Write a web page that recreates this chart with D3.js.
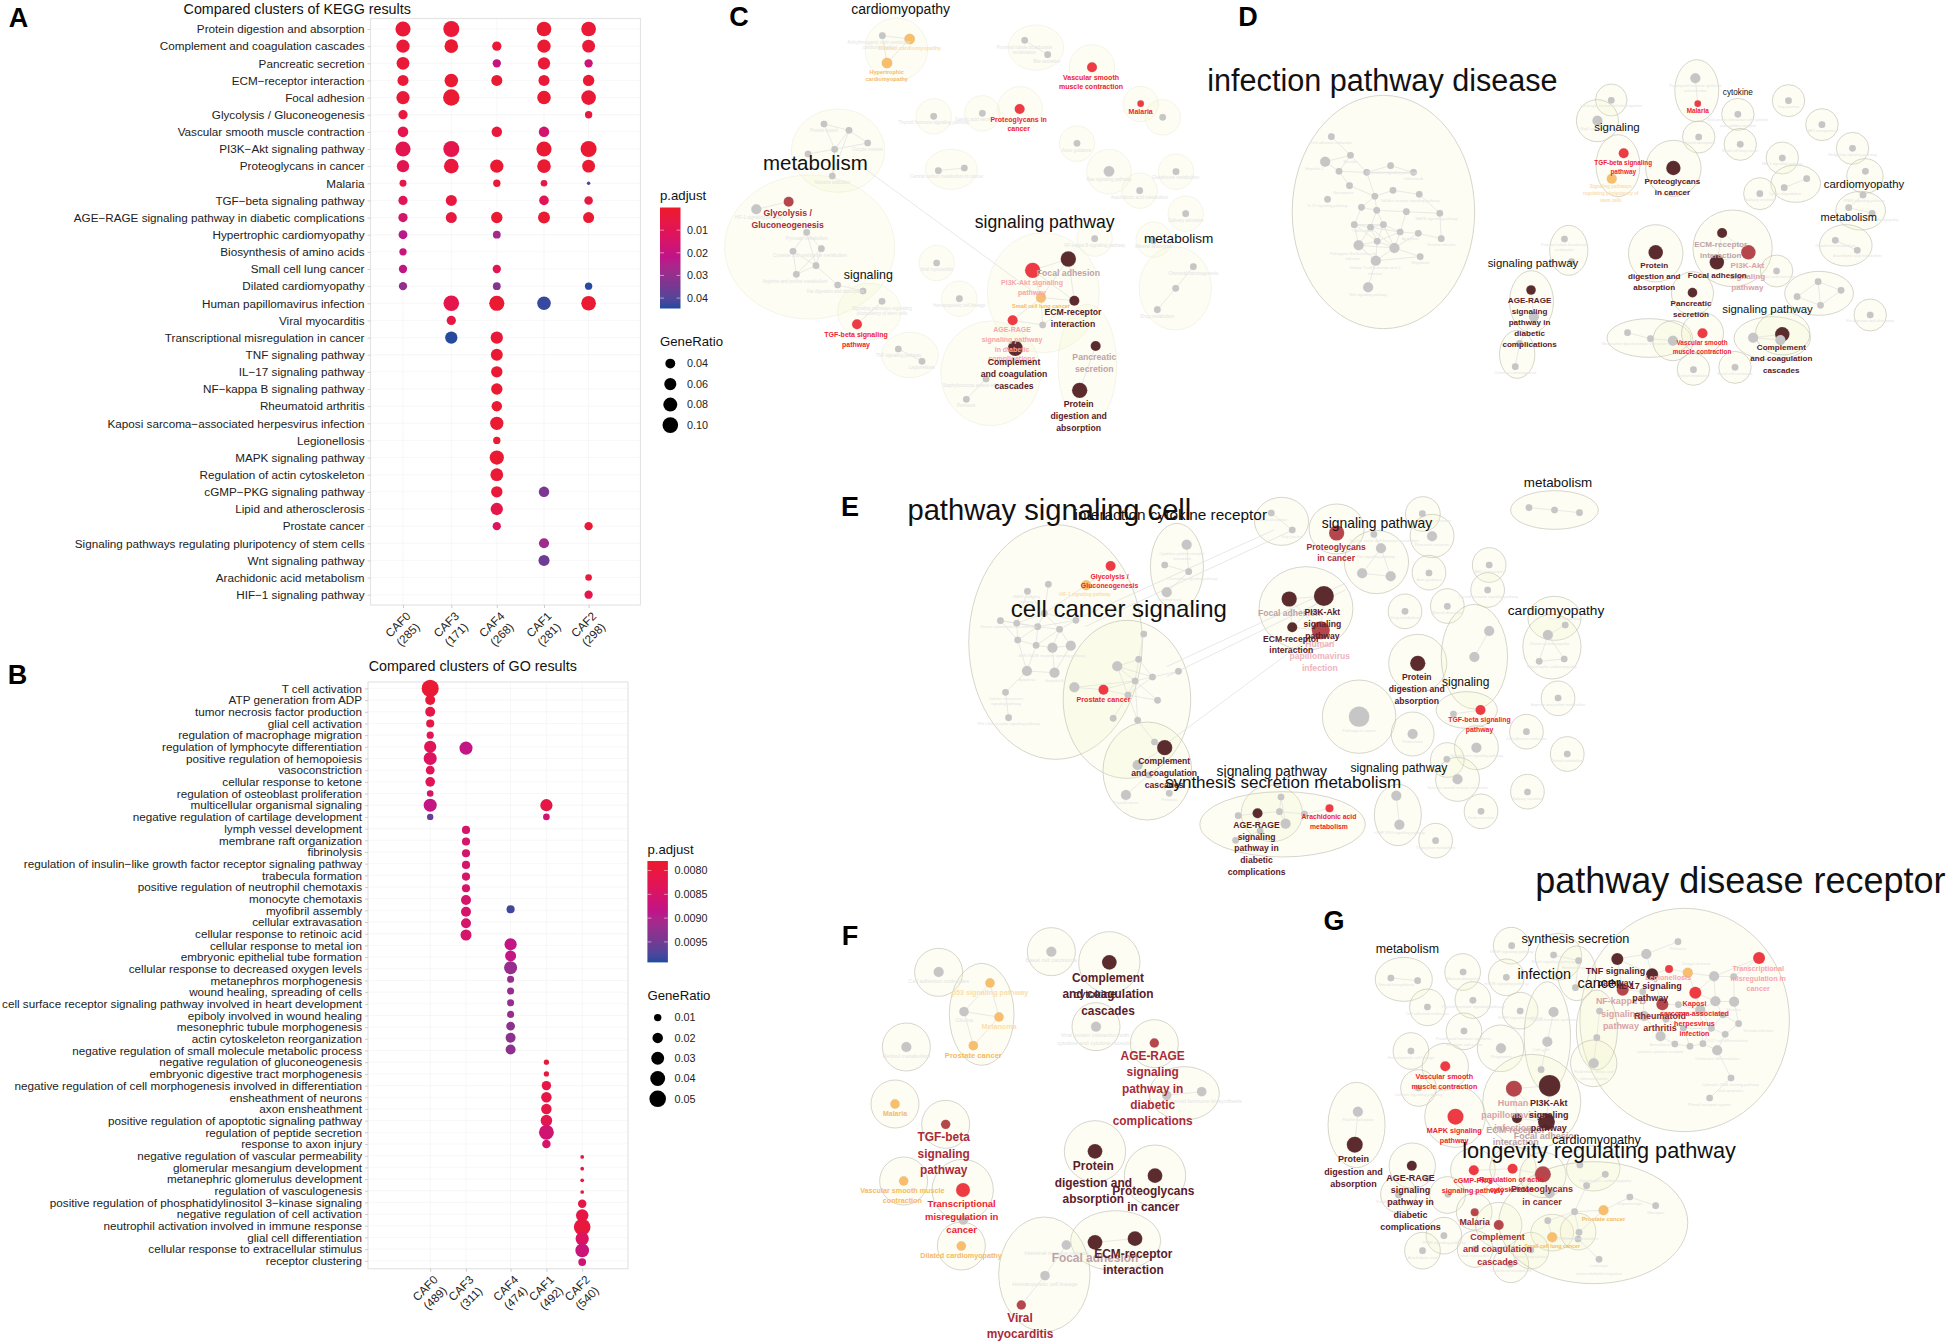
<!DOCTYPE html>
<html>
<head>
<meta charset="utf-8">
<script src="https://cdn.jsdelivr.net/npm/d3@7"></script>
<style>
html, body { margin: 0; padding: 0; background: #fff; }
text { font-family: "Liberation Sans", Arial, sans-serif; }
</style>
</head>
<body>
<svg id="fig" width="1949" height="1342"></svg>
<script>
//KEGG dot plot
var keggTerms = ["Protein digestion and absorption", "Complement and coagulation cascades", "Pancreatic secretion", "ECM−receptor interaction", "Focal adhesion", "Glycolysis / Gluconeogenesis", "Vascular smooth muscle contraction", "PI3K−Akt signaling pathway", "Proteoglycans in cancer", "Malaria", "TGF−beta signaling pathway", "AGE−RAGE signaling pathway in diabetic complications", "Hypertrophic cardiomyopathy", "Biosynthesis of amino acids", "Small cell lung cancer", "Dilated cardiomyopathy", "Human papillomavirus infection", "Viral myocarditis", "Transcriptional misregulation in cancer", "TNF signaling pathway", "IL−17 signaling pathway", "NF−kappa B signaling pathway", "Rheumatoid arthritis", "Kaposi sarcoma−associated herpesvirus infection", "Legionellosis", "MAPK signaling pathway", "Regulation of actin cytoskeleton", "cGMP−PKG signaling pathway", "Lipid and atherosclerosis", "Prostate cancer", "Signaling pathways regulating pluripotency of stem cells", "Wnt signaling pathway", "Arachidonic acid metabolism", "HIF−1 signaling pathway"];
var keggClusters = ["CAF0", "CAF3", "CAF4", "CAF1", "CAF2"];
var keggCounts = ["(285)", "(171)", "(268)", "(281)", "(298)"];
var keggRowsCAF0 = [0, 1, 2, 3, 4, 5, 6, 7, 8, 9, 10, 11, 12, 13, 14, 15];
var keggRatioCAF0 = [.094, .072, .067, .05, .072, .035, .046, .094, .062, .02, .035, .035, .032, .022, .028, .028];
var keggPadjCAF0 = [.003, .003, .003, .003, .003, .004, .008, .009, .009, .006, .01, .015, .023, .019, .021, .03];
var keggRowsCAF3 = [0, 1, 3, 4, 7, 8, 10, 11, 16, 17, 18];
var keggRatioCAF3 = [.105, .075, .075, .11, .105, .088, .05, .05, .1, .035, .062];
var keggPadjCAF3 = [.003, .002, .002, .002, .008, .004, .005, .005, .008, .006, .044];
var keggRowsCAF4 = [1, 2, 3, 6, 8, 9, 11, 12, 14, 15, 16, 18, 19, 20, 21, 22, 23, 24, 25, 26, 27, 28, 29];
var keggRatioCAF4 = [.035, .028, .05, .045, .072, .022, .053, .025, .028, .025, .094, .062, .058, .053, .053, .045, .072, .022, .083, .067, .053, .062, .028];
var keggPadjCAF4 = [.003, .02, .002, .004, .002, .003, .002, .027, .009, .033, .002, .003, .002, .002, .002, .002, .002, .002, .002, .003, .004, .007, .012];
var keggRowsCAF1 = [0, 1, 2, 3, 4, 6, 7, 8, 9, 10, 11, 16, 27, 30, 31];
var keggRatioCAF1 = [.088, .072, .062, .05, .075, .045, .094, .075, .018, .038, .058, .075, .045, .042, .05];
var keggPadjCAF1 = [.002, .002, .003, .003, .002, .016, .002, .002, .006, .01, .002, .043, .034, .028, .036];
var keggRowsCAF2 = [0, 1, 2, 3, 4, 5, 7, 8, 9, 10, 11, 15, 16, 29, 32, 33];
var keggRatioCAF2 = [.088, .067, .028, .053, .088, .022, .105, .067, .005, .03, .05, .022, .088, .028, .018, .028];
var keggPadjCAF2 = [.003, .003, .018, .002, .003, .005, .002, .002, .04, .005, .002, .044, .002, .003, .004, .008];
var keggPadjTicks = [.01, .02, .03, .04];
var keggRatioTicks = [.04, .06, .08, .10];

//GO dot plot
var goTerms = ["T cell activation", "ATP generation from ADP", "tumor necrosis factor production", "glial cell activation", "regulation of macrophage migration", "regulation of lymphocyte differentiation", "positive regulation of hemopoiesis", "vasoconstriction", "cellular response to ketone", "regulation of osteoblast proliferation", "multicellular organismal signaling", "negative regulation of cartilage development", "lymph vessel development", "membrane raft organization", "fibrinolysis", "regulation of insulin−like growth factor receptor signaling pathway", "trabecula formation", "positive regulation of neutrophil chemotaxis", "monocyte chemotaxis", "myofibril assembly", "cellular extravasation", "cellular response to retinoic acid", "cellular response to metal ion", "embryonic epithelial tube formation", "cellular response to decreased oxygen levels", "metanephros morphogenesis", "wound healing, spreading of cells", "cell surface receptor signaling pathway involved in heart development", "epiboly involved in wound healing", "mesonephric tubule morphogenesis", "actin cytoskeleton reorganization", "negative regulation of small molecule metabolic process", "negative regulation of gluconeogenesis", "embryonic digestive tract morphogenesis", "negative regulation of cell morphogenesis involved in differentiation", "ensheathment of neurons", "axon ensheathment", "positive regulation of apoptotic signaling pathway", "regulation of peptide secretion", "response to axon injury", "negative regulation of vascular permeability", "glomerular mesangium development", "metanephric glomerulus development", "regulation of vasculogenesis", "positive regulation of phosphatidylinositol 3−kinase signaling", "negative regulation of cell activation", "neutrophil activation involved in immune response", "glial cell differentiation", "cellular response to extracellular stimulus", "receptor clustering"];
var goClusters = ["CAF0", "CAF3", "CAF4", "CAF1", "CAF2"];
var goCounts = ["(489)", "(311)", "(474)", "(492)", "(540)"];
var goRowsCAF0 = [0, 1, 2, 3, 4, 5, 6, 7, 8, 9, 10, 11];
var goRatioCAF0 = [.053, .018, .018, .012, .0095, .027, .031, .014, .017, .008, .031, .0075];
var goPadjCAF0 = [.0079, .008, .0081, .0081, .0082, .0083, .0084, .0083, .0083, .0085, .0088, .0096];
var goRowsCAF3 = [5, 12, 13, 14, 15, 16, 17, 18, 19, 20, 21];
var goRatioCAF3 = [.031, .012, .012, .012, .012, .012, .012, .018, .018, .018, .022];
var goPadjCAF3 = [.0088, .0085, .0085, .0085, .0085, .0085, .0085, .0085, .0085, .0085, .0085];
var goRowsCAF4 = [19, 22, 23, 24, 25, 26, 27, 28, 29, 30, 31];
var goRatioCAF4 = [.012, .027, .022, .031, .009, .009, .009, .009, .014, .018, .018];
var goPadjCAF4 = [.0098, .0088, .0088, .0092, .0092, .0092, .0092, .0092, .0093, .0093, .0093];
var goRowsCAF1 = [10, 11, 32, 33, 34, 35, 36, 37, 38, 39];
var goRatioCAF1 = [.027, .008, .005, .005, .016, .02, .02, .024, .04, .013];
var goPadjCAF1 = [.0081, .0086, .008, .008, .0081, .0081, .0081, .0082, .0086, .0085];
var goRowsCAF2 = [40, 41, 42, 43, 44, 45, 46, 47, 48, 49];
var goRatioCAF2 = [.0025, .0025, .0025, .0025, .013, .028, .05, .032, .034, .011];
var goPadjCAF2 = [.008, .008, .008, .008, .0081, .0081, .008, .0084, .0087, .0086];
var goPadjTicks = [.008, .0085, .009, .0095];
var goRatioTicks = [.01, .02, .03, .04, .05];

// network panels: cluster outlines [cx, cy, rx, ry] in each panel's own layout units
var hullsC = [[559,148,94,94],[978,143,83,68],[1146,202,68,68],[1292,312,53,53],[1358,352,53,53],[930,327,67,67],[817,340,53,53],[671,349,53,53],[384,452,140,125],[1101,431,53,53],[724,508,78,60],[1197,515,67,67],[1398,515,53,53],[1289,572,53,53],[1427,641,53,53],[299,741,255,216],[1154,716,53,53],[1331,719,53,53],[680,789,53,53],[1000,878,168,180],[748,896,53,53],[1396,865,108,125],[478,935,95,85],[600,1065,85,68],[842,1120,150,157],[1132,1095,88,182]];
// groups: [nodes [x, y, size, kind], links between the group's nodes]
var groupsC = [
  [[[517,107],[599,117,28,"o"],[531,189,28,"o"]], [[0,1],[1,2],[0,2]]],
  [[[944,121],[1013,164]], [[0,1]]],
  [[[1146,202,25,"r"],[1292,311,11,"r"],[1358,352],[929,327,25,"r"],[817,340],[671,349],[1101,430],[1197,514,28],[1398,515],[1289,572],[1427,641],[1154,716],[1330,722],[680,789],[748,896]], []],
  [[[342,372],[417,391],[473,429],[374,448],[294,462],[367,528]], [[0,1],[0,3],[1,3],[1,2],[3,2],[3,4],[3,5],[1,5]]],
  [[[685,512],[763,504]], [[0,1]]],
  [[[139,628,25],[236,605,25,"m"]], [[0,1]]],
  [[[290,697],[249,754],[334,746],[318,797],[259,823],[383,855],[459,873]], [[0,1],[0,2],[0,3],[1,3],[2,3],[1,4],[2,4],[3,4],[3,5],[5,6]]],
  [[[516,904],[441,973,25,"r"]], [[0,1]]],
  [[[565,1047],[636,1084]], [[0,1]]],
  [[[1450,800],[1397,865],[1342,929]], [[0,1],[1,2]]],
  [[[968,811,59,"r"],[1075,777,59,"b"],[993,893,25,"o"],[1093,902,25,"b"],[908,961,25,"r"],[998,975]], [[0,1],[0,2],[0,3],[1,3],[1,2],[2,3],[2,4],[4,5],[2,5],[3,5]]],
  [[[916,1045,59,"b"]], []],
  [[[828,1137],[769,1198]], [[0,1]]],
  [[[1157,1038,25,"b"],[1109,1171,59,"b"]], [[0,1]]]
];
var crossC = [[470,510,990,890]];
// labels: [text with | between lines, x, y of the first line, line step, font size, kind]
var labelsC = [
  ["Arrhythmogenic right ventricular|cardiomyopathy",507,127,16,4.5,"g"],["Proximal tubule bicarbonate|reclamation",943,141,16,4.5,"g"],["Bile secretion",1010,184,0,4.5,"g"],["Thyroid hormone signaling pathway",671,368,0,4.5,"g"],["Gastric acid secretion",800,358,0,4.5,"g"],["Protein export",342,392,0,4.5,"g"],["Oocyte meiosis",473,449,0,4.5,"g"],["Nicotine addiction",367,547,0,4.5,"g"],["HIF-1 signaling pathway",147,652,0,4.5,"g"],["Pyruvate metabolism",290,716,0,4.5,"g"],["Cysteine and methionine metabolism",300,765,0,4.5,"g"],["Arginine and proline metabolism",255,843,0,4.5,"g"],["Fat digestion and absorption",376,874,0,4.5,"g"],["Central carbon metabolism in cancer",710,530,0,4.5,"g"],["Axon guidance",1100,450,0,4.5,"g"],["Ras signaling pathway",1197,539,0,4.5,"g"],["Glutathione metabolism",1397,533,0,4.5,"g"],["Arachidonic acid metabolism",1288,592,0,4.5,"g"],["Salivary secretion",1427,660,0,4.5,"g"],["NF-kappa B signaling pathway",1154,736,0,4.5,"g"],["Mineral absorption",1331,738,0,4.5,"g"],["Viral myocarditis",680,808,0,4.5,"g"],["Hematopoietic cell lineage",748,915,0,4.5,"g"],["Chemical carcinogenesis",1450,820,0,4.5,"g"],["Drug metabolism",1342,948,0,4.5,"g"],["Signaling pathways regulating|pluripotency of stem cells",516,924,16,4.5,"g"],["TNF signaling pathway",565,1066,0,4.5,"g"],["Legionellosis",636,1102,0,4.5,"g"],["Staphylococcus aureus infection",795,1156,0,4.5,"g"],["Pertussis",769,1217,0,4.5,"g"],
  ["Dilated cardiomyopathy",600,143,0,5.5,"y"],["Hypertrophic|cardiomyopathy",530,216,22,5.5,"o"],
  ["Vascular smooth|muscle contraction",1143,232,28,7,"r"],["Proteoglycans in|cancer",926,358,28,7,"r"],["Malaria",1292,336,0,7,"r"],["Glycolysis /|Gluconeogenesis",233,638,36,8.7,"m"],["TGF-beta signaling|pathway",438,1003,30,7,"r"],
  ["PI3K-Akt signaling|pathway",966,849,29,7,"p"],["Focal adhesion",1075,818,0,8.7,"t"],["Small cell lung cancer",993,918,0,5.5,"o"],["ECM-receptor|interaction",1089,936,36,8.7,"b"],["AGE-RAGE|signaling pathway|in diabetic|complications",906,990,29,7,"p"],["Complement|and coagulation|cascades",912,1087,36,8.7,"b"],["Pancreatic|secretion",1153,1072,36,8.7,"t"],["Protein|digestion and|absorption",1106,1212,36,8.7,"b"],
  ["cardiomyopathy",572,28,0,14,"k"],["metabolism",316,488,0,20.5,"k"],["signaling pathway",1004,666,0,17.6,"k"],["signaling",475,825,0,12.4,"k"],["metabolism",1406,714,0,13.6,"k"]
];

var hullsD = [[384,636,191,350],[861,300,33,48],[832,362,44,63],[1040,272,46,93],[1126,343,34,48],[1232,302,34,48],[1302,374,34,48],[1044,411,34,48],[1131,433,34,48],[875,497,46,93],[991,505,58,84],[1366,445,34,48],[1219,474,34,48],[1247,551,52,56],[1172,581,34,48],[1392,528,38,52],[1383,632,52,58],[1352,736,55,62],[772,751,40,75],[954,760,57,86],[1115,745,83,115],[1207,813,34,48],[694,905,46,93],[1031,880,44,65],[664,1063,37,72],[1296,880,72,66],[1403,945,34,48],[940,1014,88,58],[990,1022,42,60],[1052,1000,44,62],[1198,1015,80,65],[1220,1000,57,65],[1033,1108,34,48],[1120,1102,34,48]];
var groupsD = [
  [[[275,410],[315,466],[262,485,25],[291,514],[349,517],[399,497],[447,517],[313,557],[366,589],[404,571],[459,583],[267,598],[338,622],[370,631],[432,635],[502,640],[323,674],[357,682],[384,674],[419,696],[457,700],[505,716],[332,736,25],[371,724],[407,744,25],[368,782,25],[461,770],[352,862,25]],
   [[0,1],[1,2],[1,3],[1,4],[2,3],[3,4],[3,7],[4,5],[4,6],[5,6],[4,8],[7,8],[8,9],[9,10],[8,12],[8,13],[12,13],[13,14],[13,18],[14,19],[16,17],[17,18],[16,18],[17,19],[18,19],[16,22],[17,22],[17,23],[18,23],[19,23],[22,23],[23,24],[22,24],[22,25],[23,25],[24,25],[19,24],[19,20],[20,24],[24,26],[25,26],[25,27],[10,15],[15,21],[21,20],[14,15],[17,24],[18,24],[16,23],[12,16],[13,17]]],
  [[[1037,235,25],[1042,311,11,"r"]], [[0,1]]],
  [[[861,301],[832,362,25],[887,460,25,"r"],[862,536,25,"o"],[991,504,52,"b"],[1126,343],[1232,302],[1302,374],[1044,411],[1131,433],[1366,445],[1393,514],[1219,474],[1172,581],[1207,813],[1403,945],[763,717],[778,785]], []],
  [[[1270,536],[1223,563]], [[0,1]]],
  [[[1388,585],[1358,623],[1407,640]], [[0,1],[1,2]]],
  [[[1330,721],[1376,751]], [[0,1]]],
  [[[693,870,23,"b"],[699,950,25],[669,1030],[660,1100]], [[0,1],[1,2],[2,3]]],
  [[[954,757,52,"b"],[1031,878,23,"b"]], []],
  [[[1093,699,25,"b"],[1148,757,52,"m"],[1082,787,52,"b"]], [[0,1],[1,2],[0,2]]],
  [[[1294,845],[1342,871],[1299,916],[1250,890]], [[0,1],[1,2],[2,3],[3,0],[0,2]]],
  [[[895,998],[943,1016],[990,1022,25]], [[0,1],[1,2]]],
  [[[1052,1000,25,"r"],[1033,1109],[1120,1102]], []],
  [[[1158,1013,25],[1219,1003,52,"b"],[1215,1020,25]], [[0,1],[0,2],[1,2]]]
];
var crossD = [];
var labelsD = [
  ["Cell adhesion molecules",275,427,0,3.8,"g"],["Measles",315,486,0,3.8,"g"],["Hepatitis C",240,507,0,3.8,"g"],["Chemokine signaling pathway",400,517,0,3.8,"g"],["Influenza A",447,536,0,3.8,"g"],["Necroptosis",300,578,0,3.8,"g"],["Toll-like receptor signaling pathway",440,602,0,3.8,"g"],["IL-17 signaling pathway",267,616,0,3.8,"g"],["MAPK signaling pathway",495,657,0,3.8,"g"],["Tuberculosis",340,692,0,3.8,"g"],["Apoptosis",440,717,0,3.8,"g"],["Yersinia infection",505,733,0,3.8,"g"],["Pathogenic Escherichia coli|infection",320,760,16,3.8,"g"],["Human T-cell leukemia virus 1|infection",367,804,16,3.8,"g"],["Shigellosis",461,788,0,3.8,"g"],["Wnt signaling pathway",352,884,0,3.8,"g"],
  ["Leukocyte transendothelial migration",861,318,0,3.8,"g"],["Rap1 signaling pathway",838,385,0,3.8,"g"],["Parathyroid hormone synthesis|and secretion",1037,258,14,3.8,"g"],["Mineral absorption",1044,428,0,3.8,"g"],["Viral protein interaction with cytokine|and cytokine receptor",1126,360,16,3.8,"g"],["Small cell lung cancer",1131,451,0,3.8,"g"],["Gap junction",1232,320,0,3.8,"g"],["ABC transporters",1302,392,0,3.8,"g"],["Hedgehog signaling pathway",1366,463,0,3.8,"g"],["HIF-1 signaling pathway",1219,492,0,3.8,"g"],["Lysine degradation",1225,581,0,3.8,"g"],["Salivary secretion",1172,600,0,3.8,"g"],["PPAR signaling pathway",1390,603,0,3.8,"g"],["Hypertrophic cardiomyopathy",1410,658,0,3.8,"g"],["Glutathione metabolism",1330,738,0,3.8,"g"],["Arachidonic acid metabolism",1376,768,0,3.8,"g"],["Proximal tubule bicarbonate|reclamation",763,735,14,3.8,"g"],["Gastric acid secretion",1207,830,0,3.8,"g"],["Fat digestion and absorption",1403,963,0,3.8,"g"],["Neuroactive ligand-receptor interaction",910,1030,0,3.8,"g"],["Retinol metabolism",1033,1126,0,3.8,"g"],["Basal cell carcinoma",1120,1120,0,3.8,"g"],["Chemical carcinogenesis",660,1118,0,3.8,"g"],
  ["Signaling pathways|regulating pluripotency of|stem cells",860,560,20,4.5,"y"],
  ["Malaria",1042,333,0,6.4,"r"],["TGF-beta signaling|pathway",886,488,26,6.4,"r"],["Proteoglycans|in cancer",989,543,33,8.1,"b"],["ECM-receptor|interaction",1090,731,33,8.1,"t"],["PI3K-Akt|signaling|pathway",1146,795,33,8.1,"u"],["Focal adhesion",1083,825,0,8.1,"b"],["Protein|digestion and|absorption",951,795,33,8.1,"b"],["Pancreatic|secretion",1028,909,33,8.1,"b"],["AGE-RAGE|signaling|pathway in|diabetic|complications",690,900,33,8.1,"b"],["Vascular smooth|muscle contraction",1051,1028,26,6.4,"r"],["Complement|and coagulation|cascades",1217,1042,33.5,8.1,"b"],
  ["infection pathway disease",382,240,0,30.6,"k"],["signaling",873,382,0,11.5,"k"],["cytokine",1126,275,0,8.2,"k"],["cardiomyopathy",1390,551,0,11.4,"k"],["metabolism",1358,651,0,11,"k"],["signaling pathway",697,790,0,11.4,"k"],["signaling pathway",1188,928,0,11.4,"k"]
];

var hullsE = [[442,576,170,352],[582,748,125,237],[680,350,52,130],[885,214,53,72],[993,237,54,75],[1071,336,63,95],[1162,192,34,52],[1180,258,43,65],[1174,368,33,52],[1292,345,33,52],[1420,180,86,58],[1289,420,33,52],[933,475,92,125],[1127,484,33,52],[1210,468,33,52],[1152,640,57,87],[1263,620,65,157],[1420,505,52,66],[1415,590,57,97],[1427,745,33,52],[1037,800,72,110],[1142,852,42,66],[1248,780,60,55],[1267,893,43,66],[1365,845,33,52],[1445,912,33,52],[1210,930,33,52],[1230,988,43,66],[1367,1025,33,52],[1276,1084,33,52],[1113,1095,46,92],[1187,1172,33,52],[622,963,87,147],[866,1090,60,85],[887,1123,162,98]];
var groupsE = [
  [[[550,348,25,"r"],[502,406,25,"o"],[428,403],[387,424],[334,512],[366,520],[407,530],[482,511],[420,490],[450,538],[368,570],[404,586],[436,593,25],[472,587,25],[386,663,25],[440,668,25],[344,727],[350,803]],
   [[0,1],[1,8],[2,8],[3,8],[3,5],[4,5],[5,6],[5,8],[6,8],[6,9],[8,9],[7,8],[7,9],[4,6],[4,10],[5,10],[6,10],[6,11],[10,11],[9,11],[9,12],[9,13],[11,12],[12,13],[10,14],[11,14],[12,15],[14,15],[13,15],[16,17],[14,16],[7,6]]],
  [[[615,552],[605,628],[683,664],[563,649,25],[632,681],[598,693],[479,712,25],[536,719,25,"r"],[584,735],[642,751],[555,805],[603,811],[636,876],[656,893,58,"b"],[603,945,25],[625,975],[580,1035,25],[665,1030]],
   [[0,1],[1,3],[1,4],[1,5],[3,4],[3,5],[3,8],[4,5],[2,4],[5,7],[6,7],[7,8],[5,8],[4,8],[8,9],[5,9],[8,10],[8,11],[5,11],[11,12],[12,13],[13,14],[14,15],[15,16],[15,17],[6,5]]],
  [[[699,284,25],[656,345],[703,365],[660,427,25]], [[0,2],[1,2],[2,3]]],
  [[[865,189],[906,240]], [[0,1]]],
  [[[993,249,58,"m"],[1066,253],[1080,295,25],[1043,370,25],[1099,379,25]], [[1,2],[2,3],[2,4],[3,4]]],
  [[[1161,191],[1180,259,25],[1174,369],[1292,345],[1289,420],[1127,484],[1210,469],[1427,744],[1037,800,104],[1142,852,25],[1365,845],[1267,893,25],[1445,912],[1209,928],[1230,988,25],[1367,1026],[1276,1084],[1187,1172]], []],
  [[[1370,173],[1420,180],[1469,188]], [[0,1],[1,2]]],
  [[[900,447,58,"b"],[968,438,100,"b"],[906,532,25,"b"],[962,541,81,"m"]], [[0,1],[0,2],[1,2],[1,3],[2,3],[0,3]]],
  [[[1152,640,58,"b"]], []],
  [[[1292,543,25],[1263,621,25]], [[0,1]]],
  [[[1275,780,25,"r"],[1222,792]], [[0,1]]],
  [[[1441,525],[1407,555,25],[1390,634],[1439,627]], [[1,2],[2,3],[1,3],[0,1]]],
  [[[1110,1037,25],[1116,1124,25]], [[0,1]]],
  [[[884,1041],[800,1097],[838,1090,25,"b"],[881,1085],[930,1092],[979,1075,16,"r"],[893,1121,25],[843,1143],[795,1171]], [[0,3],[1,2],[2,3],[3,4],[4,5],[3,6],[2,7],[7,8],[0,6]]]
];
var crossE = [[480,510,870,240],[500,530,900,245],[660,650,1010,400],[660,680,1010,420],[660,880,960,540]];
var labelsE = [
  ["MAPK signaling|pathway",385,440,16,3.8,"g"],["Human cytomegalovirus infection",350,530,0,3.8,"g"],["AGE-RAGE receptor signaling pathway",435,617,0,3.8,"g"],["Apoptosis",386,688,0,3.8,"g"],["Hepatitis B",440,692,0,3.8,"g"],["Cellular senescence|signaling pathway",345,746,16,3.8,"g"],["RIG-I-like receptor signaling pathway",350,822,0,3.8,"g"],["Cytokine-cytokine receptor|interaction",690,312,14,3.8,"g"],["Chemokine signaling pathway",710,385,0,3.8,"g"],["Leishmaniasis",665,450,0,3.8,"g"],["Mineral absorption",865,208,0,3.8,"g"],["Gap junction",906,260,0,3.8,"g"],["Glycine, serine and threonine metabolism",1085,272,0,3.8,"g"],["Pancreatic secretion",1180,284,0,3.8,"g"],["Insulin secretion",1190,212,0,3.8,"g"],["Ras signaling pathway",1070,320,0,3.8,"g"],["Axon guidance",1174,388,0,3.8,"g"],["ABC transporters",1292,365,0,3.8,"g"],["Thyroid hormone signaling pathway",1290,440,0,3.8,"g"],["Drug metabolism",1127,504,0,3.8,"g"],["Mineral absorption",1210,489,0,3.8,"g"],["Retinol metabolism",1441,505,0,3.8,"g"],["Dilated cardiomyopathy",1410,580,0,3.8,"g"],["Hypertrophic cardiomyopathy",1415,650,0,3.8,"g"],["Arginine and proline metabolism",1427,764,0,3.8,"g"],["Pathways in cancer",1037,842,0,3.8,"g"],["Proteasome",1142,876,0,3.8,"g"],["Cell adhesion molecules",1365,865,0,3.8,"g"],["Spliceosome signaling pathway",1267,918,0,3.8,"g"],["Retinol metabolism",1445,932,0,3.8,"g"],["Vascular smooth muscle contraction",1230,1013,0,3.8,"g"],["Salivary secretion",1367,1046,0,3.8,"g"],["Renin secretion",1276,1104,0,3.8,"g"],["cGMP-PKG signaling pathway",1116,1147,0,3.8,"g"],["Tryptophan metabolism",1187,1192,0,3.8,"g"],["Thyroid cancer",580,1058,0,3.8,"g"],["Pertussis",665,1050,0,3.8,"g"],
  ["HIF-1 signaling pathway",500,433,0,4.5,"y"],["Glycolysis /|Gluconeogenesis",548,379,28,6.9,"r"],["Prostate cancer",536,749,0,7.2,"r"],["Proteoglycans|in cancer",992,290,35,8.6,"m"],["Human|papillomavirus|infection",960,582,35.5,8.6,"q"],["Focal adhesion",900,488,0,8.6,"t"],["PI3K-Akt|signaling|pathway",965,487,35.5,8.6,"b"],["ECM-receptor|interaction",904,566,35,8.6,"b"],["Protein|digestion and|absorption",1150,681,36,8.6,"b"],["TGF-beta signaling|pathway",1273,810,28,6.9,"r"],["Complement|and coagulation|cascades",655,934,35.5,8.6,"b"],["AGE-RAGE|signaling|pathway in|diabetic|complications",836,1125,35,8.6,"b"],["Arachidonic acid|metabolism",978,1100,29,6.8,"r"],
  ["pathway signaling cell",430,180,0,29.2,"k"],["interaction cytokine receptor",668,193,0,15.4,"k"],["cell cancer signaling",566,475,0,24,"k"],["signaling pathway",1072,218,0,13.9,"k"],["metabolism",1427,96,0,13.4,"k"],["cardiomyopathy",1423,480,0,13.7,"k"],["signaling",1246,696,0,12,"k"],["signaling pathway",866,964,0,13.9,"k"],["signaling pathway",1115,953,0,12.2,"k"],["synthesis secretion metabolism",888,997,0,17,"k"]
];

var hullsF = [[326,217,72,72],[455,343,97,153],[229,441,72,72],[664,155,72,72],[838,187,92,92],[798,380,72,72],[973,431,72,72],[1063,580,105,80],[195,612,72,72],[347,673,72,72],[795,754,92,92],[975,827,92,92],[221,843,72,72],[398,870,92,92],[394,1038,72,72],[857,1022,135,90],[643,1123,137,172]];
var groupsF = [
  [[[326,216,25],[229,441,25],[664,155,25],[798,380,25],[400,960,22]], []],
  [[[480,249,22,"o"],[402,335,22],[507,351,22,"o"],[430,437,22,"o"]], [[0,1],[0,2],[1,2],[1,3],[2,3]]],
  [[[838,187,54,"b"],[973,429,22,"m"],[195,612,22,"o"],[347,673,22,"m"],[795,754,54,"b"],[975,827,54,"b"],[221,843,22,"o"],[399,870,49,"r"],[394,1038,22,"o"]], []],
  [[[1010,586,22],[1115,575,22]], [[0,1]]],
  [[[795,1027,54,"b"],[915,1016,54,"b"]], [[0,1]]],
  [[[709,1035,22],[645,1127,22],[574,1215,22,"m"]], [[0,1],[1,2]]]
];
var crossF = [];
var labelsF = [
  ["Cell adhesion molecules",326,243,0,5.6,"g"],["Glioma",403,361,0,5.6,"g"],["Retinol metabolism",229,467,0,5.6,"g"],["Basal cell carcinoma",664,181,0,5.6,"g"],["Viral protein interaction with|cytokine and cytokine receptor",795,406,24,5.6,"g"],["Steroid hormone biosynthesis",1125,602,0,5.6,"g"],["Intestinal immune network",680,1060,0,5.6,"g"],["Hematopoietic cell lineage",645,1152,0,5.6,"g"],
  ["p53 signaling pathway",480,278,0,7.2,"y"],["Melanoma",507,380,0,7.2,"y"],["Prostate cancer",430,467,0,7.6,"o"],["Malaria",195,640,0,7,"o"],["Vascular smooth muscle|contraction",217,872,29,7.2,"o"],["Dilated cardiomyopathy",393,1067,0,7.2,"o"],
  ["cytokine",795,282,0,11.7,"k"],["Complement|and coagulation|cascades",834,233,49.5,11.9,"b"],["AGE-RAGE|signaling|pathway in|diabetic|complications",968,468,49,11.9,"m"],["TGF-beta|signaling|pathway",341,711,50,11.9,"m"],["Transcriptional|misregulation in|cancer",395,911,39.5,9.5,"r"],["Protein|digestion and|absorption",790,799,49.5,11.9,"b"],["Proteoglycans|in cancer",970,873,49,11.9,"b"],["Focal adhesion",795,1073,0,11.9,"t"],["ECM-receptor|interaction",910,1062,48,11.9,"b"],["Viral|myocarditis",570,1254,49,11.9,"m"]
];

var hullsG = [[975,480,235,335],[586,257,40,55],[692,290,52,70],[733,340,43,82],[345,358,64,66],[477,336,40,55],[575,352,40,55],[398,442,40,55],[500,420,40,55],[606,452,40,55],[667,530,52,165],[480,514,40,55],[562,565,52,70],[361,573,40,55],[438,620,52,70],[378,684,40,55],[778,510,46,120],[771,610,52,70],[632,725,110,142],[239,795,64,128],[460,770,68,92],[364,917,52,68],[770,925,60,68],[500,930,50,65],[590,925,52,65],[657,945,52,68],[333,1003,40,55],[443,1005,40,55],[503,1055,40,55],[558,1095,52,68],[435,1127,40,55],[387,1172,40,55],[505,1167,40,55],[678,1118,48,55],[736,1115,40,55],[630,1172,40,55],[585,1213,40,55],[770,1088,212,183]];
var groupsG = [
  [[[960,245],[889,282,25],[824,297,36,"b"],[902,343,36,"b"],[940,327,16,"r"],[982,338,25,"o"],[1142,294,36,"r"],[1041,349,25],[1085,350],[836,389,36,"m"],[881,395],[999,398,36,"r"],[925,433,36,"m"],[961,434],[1044,424,25],[1086,425,25],[884,468,25],[933,478],[1010,450,25],[1061,465],[1096,491],[1035,505],[972,505],[1066,523],[921,529,25],[953,552],[987,559],[1016,551],[1048,571,25],[1079,654],[1031,714]],
   [[0,1],[1,2],[1,3],[2,3],[3,4],[4,5],[5,7],[7,8],[6,8],[6,7],[2,9],[9,10],[10,3],[3,12],[12,13],[13,18],[11,18],[11,14],[11,7],[14,15],[14,18],[7,14],[8,15],[15,20],[14,19],[18,19],[19,20],[18,21],[19,21],[21,23],[20,23],[17,18],[16,17],[17,22],[22,21],[22,26],[24,17],[24,25],[25,26],[26,27],[27,28],[23,28],[28,29],[29,30],[16,24],[12,17],[10,16],[5,11],[18,27],[21,27]]],
  [[[587,257],[681,285],[737,302],[730,383],[316,354],[376,362],[478,336],[575,352],[398,441],[500,421],[606,453],[480,513],[563,565,25],[361,573],[438,619,25,"r"],[378,684],[461,770,64,"r"],[740,915],[333,1005],[444,1003],[504,1057,16,"m"],[558,1095,25,"m"],[435,1127],[387,1172],[505,1167],[630,1170],[584,1213],[398,955]], [[4,5],[1,2],[2,3]]],
  [[[681,456,25],[667,545,25],[653,629]], [[0,1],[1,2]]],
  [[[784,453],[778,533],[771,610,25]], [[0,1],[1,2]]],
  [[[592,686,64,"m"],[672,677,115,"b"],[599,775,25,"b"],[665,785,72,"b"]], [[0,1],[0,3],[1,3],[2,3],[0,2]]],
  [[[242,755,25],[235,854,64,"b"]], [[0,1]]],
  [[[363,917,25,"b"],[502,931,25,"r"],[589,926,25,"r"],[657,943,64,"m"],[672,1000,25]], [[1,2],[2,3],[3,4]]],
  [[[797,943],[755,977],[728,1055],[793,1051,25,"o"],[852,1011],[910,1037],[668,1082],[738,1117],[736,1137],[678,1132,25,"o"],[783,1198]], [[0,1],[1,2],[2,3],[3,4],[4,5],[2,6],[6,9],[7,8],[2,7],[8,9],[8,10],[7,3]]]
];
var crossG = [];
var labelsG = [
  ["Pertussis",960,265,0,4,"g"],["Chagas disease",1000,310,0,4,"g"],["Measles",1085,450,0,4,"g"],["Yersinia infection",1140,512,0,4,"g"],["Th17 cell differentiation",1070,543,0,4,"g"],["Osteoclast differentiation",1048,597,0,4,"g"],["Amoebiasis|cytokine-cytokine receptor",920,555,20,4,"g"],["Cytosolic DNA-sensing pathway|and apoptosis",1078,675,16,4,"g"],["Phenol transport system",1031,735,0,4,"g"],
  ["VEGF signaling pathway",587,276,0,4,"g"],["Notch signaling pathway",680,305,0,4,"g"],["Hormone signaling",737,322,0,4,"g"],["Steroid biosynthesis",328,374,0,4,"g"],["Mineral absorption",478,356,0,4,"g"],["mTOR signaling pathway",575,372,0,4,"g"],["Cell adhesion molecules",398,462,0,4,"g"],["Thyroid hormone signaling pathway",500,441,0,4,"g"],["EGFR signaling pathway",606,473,0,4,"g"],["Thyroid hormone synthesis",680,480,0,4,"g"],["Parathyroid hormone synthesis,|secretion and action",480,535,20,4,"g"],["Cell cycle",653,570,0,4,"g"],["Phagosome",563,590,0,4,"g"],["Hematopoietic cell lineage",361,593,0,4,"g"],["Calcium signaling pathway",378,704,0,4,"g"],["Platelet activation",242,780,0,4,"g"],["Fluid shear stress and|atherosclerosis",771,635,20,4,"g"],["Fat digestion and absorption",340,1025,0,4,"g"],["Hypertrophic cardiomyopathy",797,963,0,4,"g"],["Dopaminergic",852,1031,0,4,"g"],["Glucagon",910,1057,0,4,"g"],["Cholesterol metabolism",735,1137,0,4,"g"],["Leukocyte|transendothelial migration",783,1218,22,4,"g"],["PPAR signaling pathway",435,1147,0,4,"g"],["Arachidonic acid",387,1192,0,4,"g"],["Viral myocarditis",505,1187,0,4,"g"],["Lysine degradation",630,1190,0,4,"g"],["Cholesterol metabolism",584,1233,0,4,"g"],
  ["Prostate cancer",793,1078,0,5.8,"o"],["Small cell lung cancer",678,1158,0,5.3,"o"],
  ["Transcriptional|misregulation in|cancer",1140,325,30,7.2,"p"],["Legionellosis",938,353,0,7.2,"p"],["NF-kappa B|signaling|pathway",832,424,37,9,"u"],["Human|papillomavirus|infection",590,729,37,9,"u"],["ECM-receptor|interaction",596,810,37,9,"t"],["Focal adhesion",665,828,0,9,"t"],
  ["TNF signaling|pathway",820,333,37,9,"b"],["IL-17 signaling|pathway",898,378,37,9,"b"],["Rheumatoid|arthritis",920,467,38,9,"n"],["Kaposi|sarcoma-associated|herpesvirus|infection",997,430,30,7.2,"r"],["Vascular smooth|muscle contraction",436,650,30,7.2,"r"],["MAPK signaling|pathway",458,810,30,7.2,"r"],["PI3K-Akt|signaling|pathway",670,728,37.5,9,"b"],["Protein|digestion and|absorption",232,897,37.5,9,"b"],["AGE-RAGE|signaling|pathway in|diabetic|complications",360,953,37,9,"b"],["cGMP-PKG|signaling pathway",500,961,31,7.2,"r"],["Regulation of actin|cytoskeleton",587,958,30,7.2,"r"],["Proteoglycans|in cancer",655,988,37,9,"n"],["Malaria",504,1086,0,8.8,"n"],["Complement|and coagulation|cascades",555,1131,37,9,"m"],
  ["pathway disease receptor",1100,60,0,36,"k"],["synthesis secretion",730,237,0,12.7,"k"],["metabolism",353,267,0,12.4,"k"],["infection",660,341,0,14.4,"k"],["cancer",783,368,0,14.4,"k"],["cardiomyopathy",777,838,0,12.6,"k"],["longevity regulating pathway",783,870,0,21.7,"k"]
];
var panelLetters = ["A", "B", "C", "D", "E", "F", "G"];

var svg = d3.select("#fig");

var nodeFill = {g: "#c6c6c6", o: "#F8BE6C", r: "#EE3A43", m: "#B5474C", b: "#5B2B2E"};
var textFill = {k: "#111", g: "#e4e4e4", y: "#FBDDAE", o: "#F6BA62", r: "#EE1C30", m: "#A92B38", n: "#8A2A32", b: "#5A2029", p: "#F7A5AB", q: "#EEB4BC", t: "#BDA3A5", u: "#D9A2A8"};

// ggplot style dot plot, the columns of the source are not evenly spaced
function dotPlot(o) {
    var g = svg.append("g");
    var y = d3.scalePoint().domain(o.terms).range(o.rowRange);
    var x = d3.scaleOrdinal().domain(o.clusters).range(o.columns);
    var nudge = d3.scaleOrdinal().domain(o.clusters).range(o.nudge);
    var r = d3.scaleSqrt().domain([0, o.ratioMax]).range([0, o.rMax]);
    var t = o.padjDomain;
    var color = d3.scaleLinear()
        .domain(d3.range(5).map(function(i) { return t[0] + (t[1] - t[0]) * i / 4; }))
        .range(["#ED1B2A", "#E0145A", "#BE1589", "#7F3590", "#1C4BA0"])
        .interpolate(d3.interpolateLab);

    g.append("rect").attr("x", o.frame[0]).attr("y", o.frame[1])
        .attr("width", o.frame[2] - o.frame[0]).attr("height", o.frame[3] - o.frame[1])
        .attr("fill", "#fff");
    g.selectAll(".gh").data(o.terms).join("line")
        .attr("x1", o.frame[0]).attr("x2", o.frame[2])
        .attr("y1", function(d) { return y(d); }).attr("y2", function(d) { return y(d); })
        .attr("stroke", "#f1f1f1").attr("stroke-width", 0.6);
    g.selectAll(".gv").data(o.clusters).join("line")
        .attr("y1", o.frame[1]).attr("y2", o.frame[3])
        .attr("x1", function(d) { return x(d); }).attr("x2", function(d) { return x(d); })
        .attr("stroke", "#f1f1f1").attr("stroke-width", 0.6);
    g.append("rect").attr("x", o.frame[0]).attr("y", o.frame[1])
        .attr("width", o.frame[2] - o.frame[0]).attr("height", o.frame[3] - o.frame[1])
        .attr("fill", "none").attr("stroke", "#e4e4e4").attr("stroke-width", 1.2);

    var yAxis = g.append("g").attr("transform", "translate(" + o.frame[0] + ",0)")
        .call(d3.axisLeft(y).tickSize(3).tickPadding(3));
    yAxis.select(".domain").remove();
    yAxis.selectAll("line").attr("stroke", "#ccc");
    yAxis.selectAll("text").attr("font-size", 11.7).attr("fill", "#222")
        .style("font-family", '"Liberation Sans"');

    var xAxis = g.append("g").attr("transform", "translate(0," + o.frame[3] + ")")
        .call(d3.axisBottom(x).tickSize(3).tickFormat(""));
    xAxis.select(".domain").remove();
    xAxis.selectAll("line").attr("stroke", "#ccc");
    o.clusters.forEach(function(c, i) {
        var label = g.append("g")
            .attr("transform", "translate(" + x(c) + "," + (o.frame[3] + 24.5) + ") rotate(-45)")
            .attr("font-size", 11.7).attr("fill", "#222").attr("text-anchor", "middle");
        label.append("text").attr("y", -3).text(c);
        label.append("text").attr("y", 11).text(o.counts[i]);
    });

    o.clusters.forEach(function(c, i) {
        g.append("g").selectAll("circle").data(o.rows[i]).join("circle")
            .attr("cx", x(c))
            .attr("cy", function(d) { return y(o.terms[d]) + nudge(c); })
            .attr("r", function(d, j) { return r(o.ratio[i][j]); })
            .attr("fill", function(d, j) { return color(o.padj[i][j]); });
    });

    g.append("text").attr("x", o.titleX).attr("y", o.titleY).attr("font-size", 14.3)
        .attr("fill", "#111").text(o.title);

    // colour bar
    var id = "bar" + o.title.length;
    var grad = svg.append("defs").append("linearGradient").attr("id", id)
        .attr("x1", 0).attr("y1", 0).attr("x2", 0).attr("y2", 1);
    d3.range(21).forEach(function(i) {
        grad.append("stop").attr("offset", (i * 5) + "%")
            .attr("stop-color", color(t[0] + (t[1] - t[0]) * i / 20));
    });
    var lx = o.legendX, bar = o.barRange;
    g.append("text").attr("x", lx).attr("y", o.padjTitleY).attr("font-size", 13.2).attr("fill", "#111").text("p.adjust");
    g.append("rect").attr("x", lx).attr("y", bar[0]).attr("width", 20.5).attr("height", bar[1] - bar[0]).attr("fill", "url(#" + id + ")");
    var yBar = d3.scaleLinear().domain(t).range(bar);
    o.padjTicks.forEach(function(v) {
        g.append("path").attr("d", "M" + lx + "," + yBar(v) + "h4M" + (lx + 16.5) + "," + yBar(v) + "h4")
            .attr("stroke", "#fff").attr("stroke-width", 0.5);
        g.append("text").attr("x", lx + 27).attr("y", yBar(v)).attr("dy", ".35em")
            .attr("font-size", 10.8).attr("fill", "#222").text(o.padjFormat(v));
    });
    g.append("text").attr("x", lx).attr("y", o.ratioTitleY).attr("font-size", 13.2).attr("fill", "#111").text("GeneRatio");
    o.ratioTicks.forEach(function(v, i) {
        var ly = o.ratioY[0] + i * o.ratioY[1];
        g.append("circle").attr("cx", lx + 10.3).attr("cy", ly).attr("r", r(v)).attr("fill", "#000");
        g.append("text").attr("x", lx + 27).attr("y", ly).attr("dy", ".35em")
            .attr("font-size", 10.8).attr("fill", "#222").text(d3.format(".2f")(v));
    });
}

dotPlot({
    terms: keggTerms, clusters: keggClusters, counts: keggCounts,
    rows: [keggRowsCAF0, keggRowsCAF3, keggRowsCAF4, keggRowsCAF1, keggRowsCAF2],
    ratio: [keggRatioCAF0, keggRatioCAF3, keggRatioCAF4, keggRatioCAF1, keggRatioCAF2],
    padj: [keggPadjCAF0, keggPadjCAF3, keggPadjCAF4, keggPadjCAF1, keggPadjCAF2],
    frame: [370.5, 18.5, 640.5, 605], rowRange: [29, 594.7],
    columns: [403, 451.3, 496.8, 544, 588.6], nudge: [0, 0, 0, 0, 0],
    ratioMax: .11, rMax: 8.2, padjDomain: [0, .0446],
    title: "Compared clusters of KEGG results", titleX: 183.6, titleY: 13.5,
    legendX: 660, barRange: [207.5, 308.5], padjTitleY: 200, ratioTitleY: 346,
    padjTicks: keggPadjTicks, padjFormat: d3.format(".2f"),
    ratioTicks: keggRatioTicks, ratioY: [363.6, 20.5]
});
dotPlot({
    terms: goTerms, clusters: goClusters, counts: goCounts,
    rows: [goRowsCAF0, goRowsCAF3, goRowsCAF4, goRowsCAF1, goRowsCAF2],
    ratio: [goRatioCAF0, goRatioCAF3, goRatioCAF4, goRatioCAF1, goRatioCAF2],
    padj: [goPadjCAF0, goPadjCAF3, goPadjCAF4, goPadjCAF1, goPadjCAF2],
    frame: [368, 682, 628, 1268.7], rowRange: [688.4, 1260.8],
    columns: [430.2, 466, 510.6, 546.4, 582.2], nudge: [0, 1.3, -1.1, 0, 1.3],
    ratioMax: .055, rMax: 8.7, padjDomain: [.0078, .00993],
    title: "Compared clusters of GO results", titleX: 368.7, titleY: 671,
    legendX: 647.4, barRange: [861, 962.4], padjTitleY: 854, ratioTitleY: 1000,
    padjTicks: goPadjTicks, padjFormat: d3.format(".4f"),
    ratioTicks: goRatioTicks, ratioY: [1017.6, 20.3]
});

// enrichment map panel
function network(o) {
    var x = d3.scaleLinear().domain(o.xDomain).range(o.xRange);
    var y = d3.scaleLinear().domain(o.yDomain).range(o.yRange);
    var r = d3.scaleSqrt().domain([0, 100]).range([0, 10]);
    var g = svg.append("g");
    g.append("g").selectAll("ellipse").data(o.hulls).join("ellipse")
        .attr("cx", function(d) { return x(d[0]); })
        .attr("cy", function(d) { return y(d[1]); })
        .attr("rx", function(d) { return x(d[0] + d[2]) - x(d[0]); })
        .attr("ry", function(d) { return y(d[1] + d[3]) - y(d[1]); })
        .attr("fill", "#F7F7C4").attr("fill-opacity", 0.2)
        .attr("stroke", o.hullStroke).attr("stroke-width", 0.7);
    g.append("g").selectAll("line").data(o.cross).join("line")
        .attr("x1", function(d) { return x(d[0]); }).attr("y1", function(d) { return y(d[1]); })
        .attr("x2", function(d) { return x(d[2]); }).attr("y2", function(d) { return y(d[3]); })
        .attr("stroke", "#dedede").attr("stroke-width", 0.7);
    o.groups.forEach(function(grp) {
        var nodes = grp[0];
        g.append("g").selectAll("line").data(grp[1]).join("line")
            .attr("x1", function(d) { return x(nodes[d[0]][0]); }).attr("y1", function(d) { return y(nodes[d[0]][1]); })
            .attr("x2", function(d) { return x(nodes[d[1]][0]); }).attr("y2", function(d) { return y(nodes[d[1]][1]); })
            .attr("stroke", "#dcdcdc").attr("stroke-width", 0.6);
    });
    o.groups.forEach(function(grp) {
        g.append("g").selectAll("circle").data(grp[0]).join("circle")
            .attr("cx", function(d) { return x(d[0]); })
            .attr("cy", function(d) { return y(d[1]); })
            .attr("r", function(d) { return r(d[2] || 11); })
            .attr("fill", function(d) { return nodeFill[d[3] || "g"]; })
            .attr("stroke", "#bbb").attr("stroke-width", 0.15);
    });
    o.labels.forEach(function(l) {
        var text = g.append("text").attr("text-anchor", "middle")
            .attr("font-size", l[4])
            .attr("font-weight", (l[5] == "k" || l[5] == "g") ? "normal" : "bold")
            .attr("fill", textFill[l[5]]);
        l[0].split("|").forEach(function(line, i) {
            text.append("tspan").attr("x", x(l[1])).attr("y", y(l[2] + i * l[3])).attr("dy", ".35em").text(line);
        });
    });
}

network({hulls: hullsC, groups: groupsC, cross: crossC, labels: labelsC, hullStroke: "#efefdf", xDomain: [0, 1560], xRange: [710, 1230], yDomain: [0, 1350], yRange: [0, 450]});
network({hulls: hullsD, groups: groupsD, cross: crossD, labels: labelsD, hullStroke: "#c4c4b8", xDomain: [0, 1568], xRange: [1200, 1949], yDomain: [0, 1350], yRange: [0, 450]});
network({hulls: hullsE, groups: groupsE, cross: crossE, labels: labelsE, hullStroke: "#c4c4b8", xDomain: [0, 1568], xRange: [830, 1630], yDomain: [0, 1350], yRange: [450, 900]});
network({hulls: hullsF, groups: groupsF, cross: crossF, labels: labelsF, hullStroke: "#c4c4b8", xDomain: [0, 1260], xRange: [830, 1250], yDomain: [0, 1326], yRange: [900, 1342]});
network({hulls: hullsG, groups: groupsG, cross: crossG, labels: labelsG, hullStroke: "#c4c4b8", xDomain: [0, 1568], xRange: [1250, 1949], yDomain: [0, 1446], yRange: [860, 1342]});

// panel letters
var letterX = d3.scaleOrdinal().domain(panelLetters).range([18.4, 17.5, 739, 1248, 850, 850, 1334]);
var letterY = d3.scaleOrdinal().domain(panelLetters).range([16.8, 674, 16.7, 16.7, 506, 935, 920]);
svg.append("g").selectAll("text").data(panelLetters).join("text")
    .attr("x", function(d) { return letterX(d); })
    .attr("y", function(d) { return letterY(d); })
    .attr("dy", ".36em").attr("text-anchor", "middle")
    .attr("font-size", 27).attr("font-weight", "bold").attr("fill", "#000")
    .text(function(d) { return d; });
</script>
</body>
</html>
